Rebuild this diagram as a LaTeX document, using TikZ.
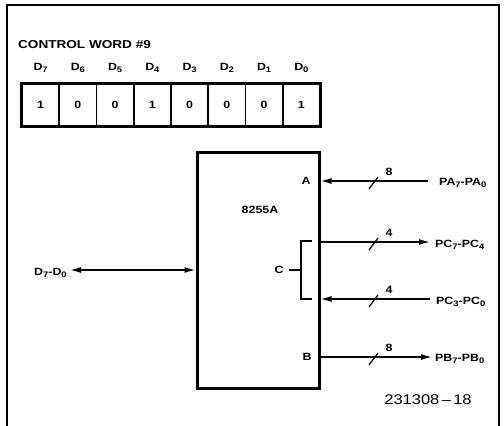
\documentclass[tikz,border=0pt]{standalone}
\usepackage{fontspec}
\setmainfont{Liberation Sans}[FakeStretch=1.18]
\usetikzlibrary{arrows.meta}
\newcommand\lsub[1]{\raisebox{-0.4ex}{\fontsize{8}{8}\selectfont\bfseries #1}}
\tikzset{
  lbl/.style={font=\bfseries\fontsize{10.5}{11}\selectfont, inner sep=0pt},
  cellbox/.style={draw, line width=1.8pt, minimum width=37.25pt, minimum height=42pt, inner sep=0pt, font=\bfseries\fontsize{10.5}{11}\selectfont},
  bus/.style={line width=1.4pt},
  tip/.style={-{Latex[length=11pt,width=6pt]}},
  slash/.style={line width=1.2pt}
}
\begin{document}
\begin{tikzpicture}[x=1pt,y=-1pt]
\useasboundingbox (0,0) rectangle (504,426);
% frame
\draw[line width=1.2pt] (7,440) -- (7,5) -- (499,5) -- (499,440);
% title
\node[lbl, anchor=west, font=\bfseries\fontsize{11.5}{12}\selectfont] (title) at (18,45) {CONTROL WORD \#9};
% register
\foreach \v/\b [count=\i from 0] in {1/7,0/6,0/5,1/4,0/3,0/2,0/1,1/0} {
  \node[cellbox] (c\b) at ({22+37.25*\i+18.625},105) {\v};
  \node[lbl] (d\b) at ({22+37.25*\i+18.625},68) {D\lsub{\b}};
}
\draw[line width=3pt] (c7.north west) rectangle (c0.south east);
% chip
\node[draw, line width=3pt, minimum width=122pt, minimum height=236pt, inner sep=0pt] (chip) at (258,270) {};
\node[lbl] (name) at (260,210) {8255A};
\node[lbl] (pA) at (306,181) {A};
\node[lbl] (pB) at (307,357) {B};
\node[lbl] (pC) at (279,270) {C};
% port labels
\node[lbl, anchor=west] (pa) at (439,183) {PA\lsub{7}-PA\lsub{0}};
\node[lbl, anchor=west] (pch) at (435,245) {PC\lsub{7}-PC\lsub{4}};
\node[lbl, anchor=west] (pcl) at (436,302) {PC\lsub{3}-PC\lsub{0}};
\node[lbl, anchor=west] (pb) at (435,359) {PB\lsub{7}-PB\lsub{0}};
\node[lbl, anchor=west] (dd) at (34,273) {D\lsub{7}-D\lsub{0}};
% coordinates
\coordinate (aR) at (428,181);
\coordinate (aL) at (chip.east |- aR);
\coordinate (chR) at (430,242);
\coordinate (chL) at (chip.east |- chR);
\coordinate (clR) at (430,299);
\coordinate (clL) at (chip.east |- clR);
\coordinate (bR) at (432,357);
\coordinate (bL) at (chip.east |- bR);
\coordinate (dL) at (70,270);
\coordinate (dR) at (chip.west |- dL);
% connectors
\draw[bus, tip] (aR) -- (aL);
\draw[bus, tip] (chL) -- (chR);
\draw[bus, tip] (clR) -- (clL);
\draw[bus, tip] (bL) -- (bR);
\draw[bus, {Latex[length=11pt,width=6pt]}-{Latex[length=11pt,width=6pt]}] (dL) -- (dR);
% slashes and widths
\foreach \y/\w in {181/8,242/4,299/4,357/8} {
  \draw[slash] (369,\y+8) -- (378,\y-4);
  \node[lbl] at (389,\y-9) {\w};
}
% C bracket
\draw[line width=1.2pt] (312,241) -- (301,241) -- (301,299) -- (312,299);
\draw[line width=1.2pt] (pC.east) ++(5,0) -- (301,270);
% figure number
\node[inner sep=0pt, font=\fontsize{14}{15}\selectfont] (fig) at (428,400) {231308\,--\,18};
\end{tikzpicture}
\end{document}
